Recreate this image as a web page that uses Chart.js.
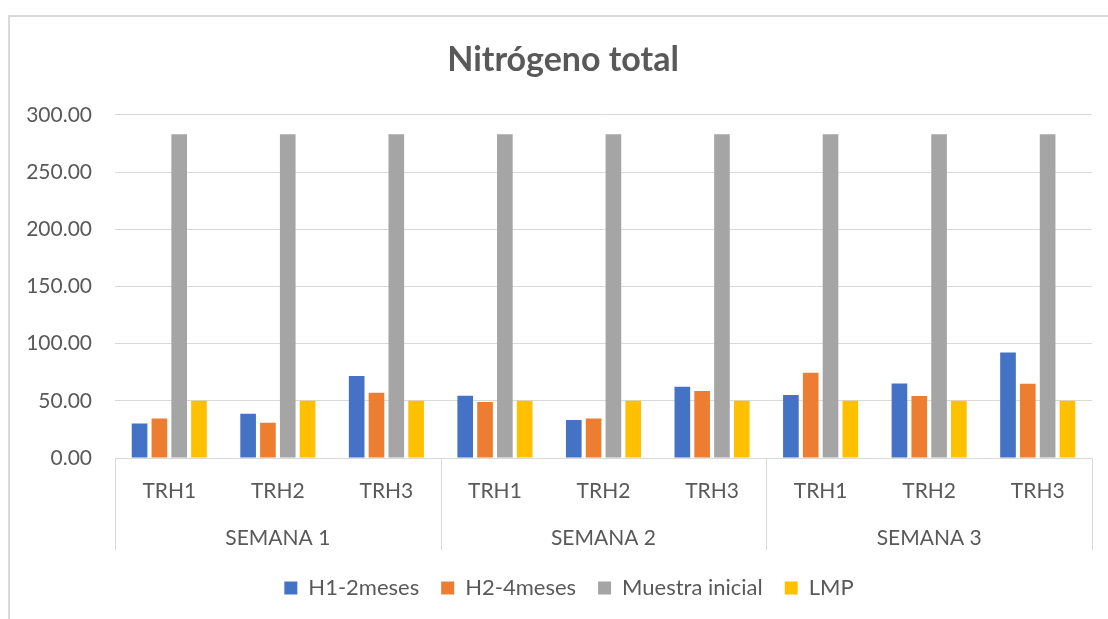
<!DOCTYPE html>
<html><head><meta charset="utf-8">
<script src="https://cdn.jsdelivr.net/npm/chart.js@4/dist/chart.umd.min.js"></script>
<style>
html,body{margin:0;padding:0;background:#fff;}
#wrap{position:absolute;left:0;top:0;width:1108px;height:619px;overflow:hidden;}
#frame{position:absolute;left:8px;top:15px;width:1100px;height:604px;border-top:2px solid #d9d9d9;border-left:2px solid #d9d9d9;box-sizing:border-box;}
canvas{position:absolute;left:0;top:0;}
</style></head><body>
<div id="wrap"><div id="frame"></div><canvas id="c" width="1108" height="619"></canvas></div>
<script>
const semanas = ['SEMANA 1', 'SEMANA 2', 'SEMANA 3'];
const tratamientos = ['TRH1', 'TRH2', 'TRH3'];
const h1 = [30.2, 38.7, 71.6, 54.4, 33.2, 62.3, 55.0, 65.2, 92.3];
const h2 = [34.6, 30.8, 57.1, 48.9, 34.6, 58.5, 74.5, 54.2, 64.9];
const muestraInicial = [283, 283, 283, 283, 283, 283, 283, 283, 283];
const lmp = [50, 50, 50, 50, 50, 50, 50, 50, 50];
const seriesNames = ['H1-2meses', 'H2-4meses', 'Muestra inicial', 'LMP'];
const yMin = 0, yMax = 300, yStep = 50;

const labels = [];
semanas.forEach(() => tratamientos.forEach(t => labels.push(t)));

const FONT = 'Lato, "Open Sans", sans-serif';
const TXT = '#595959';
const GRID = '#d9d9d9';
const FS = 21;

const groupPlugin = {
  id: 'groupLabels',
  afterLayout(chart) {
    if (chart.legend) { chart.legend.left += 13; chart.legend.right += 13; }
    if (chart.titleBlock) { chart.titleBlock.left += 7; chart.titleBlock.right += 7; }
  },
  afterDraw(chart) {
    const xs = chart.scales.x;
    const ctx = chart.ctx;
    const bottom = chart.chartArea.bottom;
    const step = xs.getPixelForValue(1) - xs.getPixelForValue(0);
    ctx.save();
    ctx.strokeStyle = GRID;
    ctx.lineWidth = 1;
    const n = tratamientos.length;
    for (let g = 0; g <= semanas.length; g++) {
      const px = Math.round(xs.getPixelForValue(g * n) - step / 2) + 0.5;
      ctx.beginPath();
      ctx.moveTo(px, bottom);
      ctx.lineTo(px, bottom + 92);
      ctx.stroke();
    }
    ctx.fillStyle = TXT;
    ctx.font = FS + 'px ' + FONT;
    ctx.textAlign = 'center';
    ctx.textBaseline = 'middle';
    semanas.forEach((s, g) => {
      const cx = xs.getPixelForValue(g * n + (n - 1) / 2);
      ctx.fillText(s, cx, bottom + 80);
    });
    ctx.restore();
  }
};

const colors = ['#4472C4', '#ED7D31', '#A5A5A5', '#FFC000'];
const values = [h1, h2, muestraInicial, lmp];

new Chart(document.getElementById('c'), {
  type: 'bar',
  data: {
    labels: labels,
    datasets: seriesNames.map((name, i) => ({
      label: name,
      data: values[i],
      backgroundColor: colors[i],
      borderWidth: 0,
      categoryPercentage: 0.73,
      barPercentage: 0.79
    }))
  },
  options: {
    responsive: false,
    animation: false,
    devicePixelRatio: 1,
    layout: { padding: { left: 20, right: 16, top: 0, bottom: 10 } },
    plugins: {
      title: {
        display: true,
        text: 'Nitrógeno total',
        color: TXT,
        font: { family: FONT, size: 34, weight: 'bold' },
        padding: { top: 40, bottom: 34 }
      },
      legend: {
        position: 'bottom',
        labels: {
          color: TXT,
          font: { family: FONT, size: 22 },
          boxWidth: 13,
          boxHeight: 13,
          padding: 22
        }
      },
      tooltip: { enabled: false }
    },
    scales: {
      x: {
        grid: { display: false, drawTicks: false },
        border: { display: true, color: GRID, width: 1 },
        ticks: { color: TXT, font: { family: FONT, size: FS }, padding: 21, maxRotation: 0, autoSkip: false },
        afterFit(s) { s.height = 97; }
      },
      y: {
        min: yMin, max: yMax,
        grid: { color: GRID, drawTicks: false, lineWidth: 1 },
        border: { display: false },
        ticks: {
          stepSize: yStep,
          color: TXT,
          font: { family: FONT, size: FS },
          padding: 23,
          callback: v => v.toFixed(2)
        },
        afterFit(s) { s.width = 95; }
      }
    }
  },
  plugins: [groupPlugin]
});
</script>
</body></html>
